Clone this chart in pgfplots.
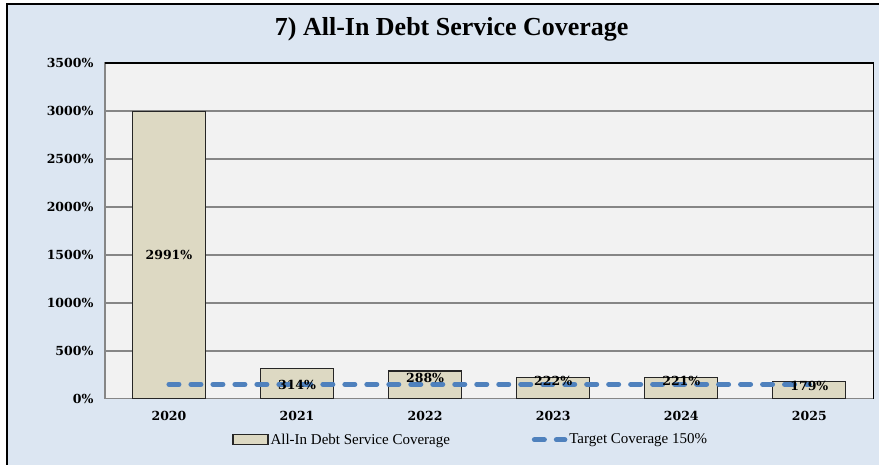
\documentclass[border=0pt]{standalone}
\usepackage{pgfplots}
\pgfplotsset{compat=1.18}
\usepackage{fontspec}
\setmainfont{Liberation Serif}
\newfontfamily\numfont{DejaVu Serif}
\definecolor{bgc}{HTML}{DCE6F2}
\definecolor{plotbg}{HTML}{F2F2F2}
\definecolor{barc}{HTML}{DDD9C3}
\definecolor{linec}{HTML}{4F81BD}
\definecolor{gridc}{HTML}{868686}
\pgfplotsset{
  barlegend/.style={legend image code/.code={\draw[##1] (0pt,-5pt) rectangle (35pt,5pt);}},
  linelegend/.style={legend image code/.code={\draw[##1] (2.5pt,0pt) -- (33pt,0pt);}},
}
\begin{document}
\begin{tikzpicture}
\fill[white] (0pt,0pt) rectangle (880pt,465pt);
\fill[bgc] (7pt,0pt) rectangle (880pt,461pt);
\draw[black, line width=1.2pt] (7pt,0pt) -- (7pt,461pt) -- (880pt,461pt);
\node[font=\fontsize{26}{30}\selectfont\bfseries] at (452pt,436pt) {7) All-In Debt Service Coverage};
\begin{axis}[
  at={(105pt,66pt)}, anchor=south west, scale only axis,
  width=769pt, height=336pt,
  xmin=-0.5, xmax=5.5, ymin=0, ymax=3500,
  xtick={0,1,2,3,4,5}, xticklabels={2020,2021,2022,2023,2024,2025},
  ytick={0,500,1000,1500,2000,2500,3000,3500},
  yticklabels={0\%,500\%,1000\%,1500\%,2000\%,2500\%,3000\%,3500\%},
  tick label style={font=\numfont\bfseries\fontsize{12.5}{15}\selectfont},
  yticklabel style={xshift=-8pt},
  xticklabel style={yshift=-9pt},
  major tick length=0pt,
  ymajorgrids,
  grid style={draw=gridc, line width=1.5pt},
  axis background/.style={fill=plotbg},
  axis line style={draw=gridc, line width=1.5pt},
  clip=false,
  legend style={at={(0.476,-0.122)}, anchor=center, draw=none, fill=none,
    legend columns=2, font=\fontsize{15}{18}\selectfont,
    /tikz/every even column/.append style={column sep=80pt}},
  legend cell align=left,
]
\addplot[ybar, bar width=73pt, bar shift=0pt, fill=barc, draw=black!85, line width=1.2pt, barlegend]
  coordinates {(0,2991) (1,314) (2,288) (3,222) (4,221) (5,179)};
\addlegendentry{All-In Debt Service Coverage}
\addplot[linec, line width=5pt, dash pattern=on 10pt off 12pt, line cap=round, mark=none, linelegend]
  coordinates {(0,150) (5,150)};
\addlegendentry{Target Coverage 150\%}
\addplot[draw=none, mark=none, forget plot, nodes near coords, point meta=explicit symbolic,
  every node near coord/.style={anchor=center, inner sep=0pt, font=\numfont\bfseries\fontsize{12.5}{14}\selectfont}]
  coordinates {(0,1500)[2991\%] (1,146)[314\%] (2,219)[288\%] (3,187)[222\%] (4,187)[221\%] (5,135)[179\%]};
\draw[black, line width=1.2pt] (rel axis cs:0,1) -- (rel axis cs:1,1) -- (rel axis cs:1,0);
\end{axis}
\end{tikzpicture}
\end{document}
